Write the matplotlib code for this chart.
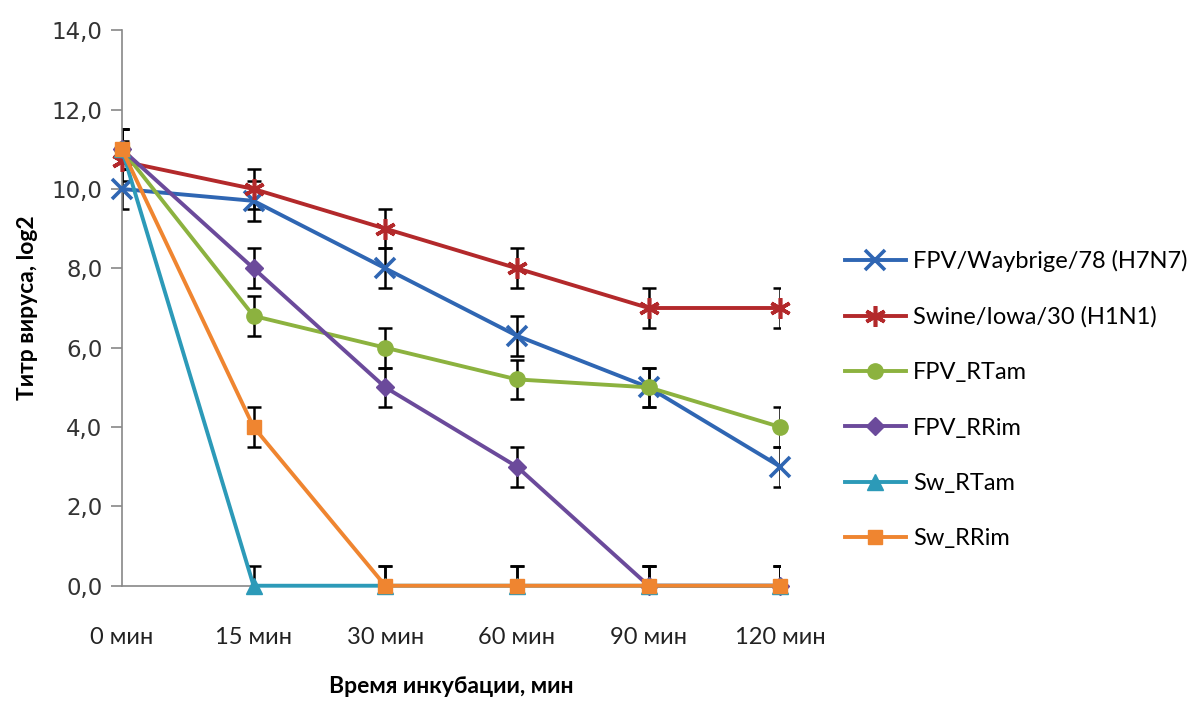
import matplotlib.pyplot as plt
from matplotlib.ticker import FuncFormatter

# data
times = ['0 мин', '15 мин', '30 мин', '60 мин', '90 мин', '120 мин']
fpv_wb = [10.0, 9.7, 8.0, 6.3, 5.0, 3.0]
swine_iowa = [10.7, 10.0, 9.0, 8.0, 7.0, 7.0]
fpv_rtam = [11.0, 6.8, 6.0, 5.2, 5.0, 4.0]
fpv_rrim = [11.0, 8.0, 5.0, 3.0, 0.0, 0.0]
sw_rtam = [11.0, 0.0, 0.0, 0.0, 0.0, 0.0]
sw_rrim = [11.0, 4.0, 0.0, 0.0, 0.0, 0.0]
err = 0.5

series = [
    ('FPV/Waybrige/78 (H7N7)', fpv_wb, '#2f66b3', 'x', 14),
    ('Swine/Iowa/30 (H1N1)', swine_iowa, '#b3292b', (6, 2, 0), 15),
    ('FPV_RTam', fpv_rtam, '#8cb23f', 'o', 11),
    ('FPV_RRim', fpv_rrim, '#6b4a9b', 'D', 9),
    ('Sw_RTam', sw_rtam, '#2c9ab8', '^', 11),
    ('Sw_RRim', sw_rrim, '#ef8530', 's', 10),
]

plt.rcParams['font.family'] = ['Lato', 'DejaVu Sans']

fig = plt.figure(figsize=(11.95, 7.04), dpi=100)
ax = fig.add_axes([0.102, 0.168, 0.551, 0.789])

x = list(range(len(times)))
for name, vals, col, mk, ms in series:
    ax.errorbar(x, vals, yerr=err, fmt='none', ecolor='black', elinewidth=1.8,
                capsize=5, capthick=1.8, zorder=2)
    ax.plot(x, vals, color=col, lw=2.8, marker=mk, markersize=ms,
            markeredgewidth=2.6 if mk in ('x', (6, 2, 0)) else 1,
            markeredgecolor=col, markerfacecolor=col, label=name, zorder=3,
            clip_on=False)

ax.set_xlim(0, 5)
ax.set_ylim(0, 14)
ax.set_yticks(range(0, 15, 2))
ax.yaxis.set_major_formatter(FuncFormatter(lambda v, p: f'{v:.1f}'.replace('.', ',')))
ax.set_xticks(x)
ax.set_xticklabels(times)
ax.tick_params(axis='x', length=0, pad=30, labelsize=17, colors='#222222')
ax.tick_params(axis='y', length=8, width=1.2, color='#888888', labelsize=16.5,
               labelcolor='#333333', pad=6)
for lbl in ax.get_yticklabels():
    lbl.set_family(['DejaVu Sans'])
for s in ['top', 'right']:
    ax.spines[s].set_visible(False)
for s in ['left', 'bottom']:
    ax.spines[s].set_color('#888888')
    ax.spines[s].set_linewidth(1.2)

ax.set_ylabel('Титр вируса, log2', fontsize=16.5, fontweight='bold', labelpad=10)
ax.set_xlabel('Время инкубации, мин', fontsize=16.5, fontweight='bold', labelpad=20)

ax.legend(loc='upper left', bbox_to_anchor=(0.699, 0.658), bbox_transform=fig.transFigure,
          frameon=False, fontsize=17, handlelength=2.6, labelspacing=1.45,
          handletextpad=0.3, borderaxespad=0)

fig.savefig('out.png', dpi=100)
